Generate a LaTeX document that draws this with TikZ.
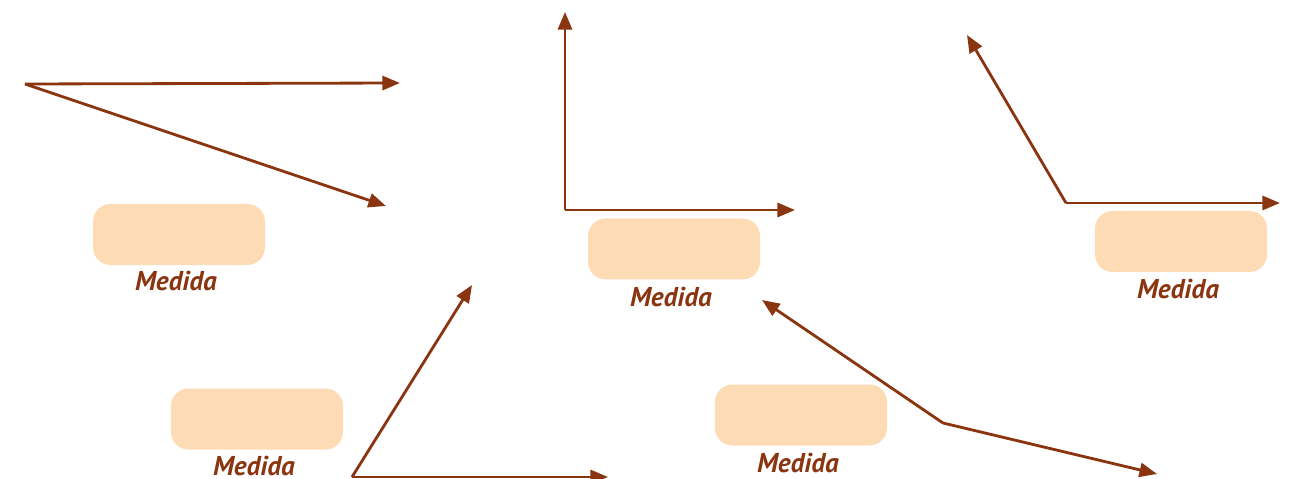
\documentclass[tikz,border=0pt]{standalone}
\usepackage{fontspec}
\setmainfont{PT Sans}
\usetikzlibrary{arrows.meta}
\definecolor{ray}{HTML}{8A3510}
\definecolor{peach}{HTML}{FDDBB4}
\begin{document}
\begin{tikzpicture}[x=0.02cm,y=-0.02cm,
  rayline/.style={draw=ray,line width=1.6pt,-{Triangle[length=10pt,width=8pt]}},
  answerbox/.style={fill=peach,draw=none,rounded corners=10pt,minimum width=172*0.02cm,minimum height=61*0.02cm,inner sep=0pt},
  measure/.style={text=ray,font=\fontsize{15.5}{18}\selectfont\bfseries\itshape,inner sep=0pt}]
\useasboundingbox (0,0) rectangle (1290,479);
% angle 1
\coordinate (v1) at (25,84);
\coordinate (a1) at (400,83);
\coordinate (b1) at (386,206);
\draw[rayline] (v1) -- (a1);
\draw[rayline] (v1) -- (b1);
% angle 2
\coordinate (v2) at (565,210);
\coordinate (a2) at (565,12);
\coordinate (b2) at (795,210);
\draw[rayline] (v2) -- (a2);
\draw[rayline] (v2) -- (b2);
% angle 3
\coordinate (v3) at (1066,203);
\coordinate (a3) at (967,35);
\coordinate (b3) at (1280,203);
\draw[rayline] (v3) -- (a3);
\draw[rayline] (v3) -- (b3);
% angle 4
\coordinate (v4) at (352,477);
\coordinate (a4) at (472,285);
\coordinate (b4) at (608,477);
\draw[rayline] (v4) -- (a4);
\draw[rayline] (v4) -- (b4);
% angle 5
\coordinate (v5) at (943,423);
\coordinate (a5) at (762,300);
\coordinate (b5) at (1157,474);
\draw[rayline] (v5) -- (a5);
\draw[rayline] (v5) -- (b5);
% boxes and labels
\node[answerbox] (box1) at (179,234.5) {};
\node[measure] (lab1) at (176,281) {Medida};
\node[answerbox] (box2) at (674,249) {};
\node[measure] (lab2) at (671,297) {Medida};
\node[answerbox] (box3) at (1181,241.5) {};
\node[measure] (lab3) at (1178,289) {Medida};
\node[answerbox] (box4) at (257,419) {};
\node[measure] (lab4) at (254,466) {Medida};
\node[answerbox] (box5) at (801,415) {};
\node[measure] (lab5) at (798,463) {Medida};
\end{tikzpicture}
\end{document}
